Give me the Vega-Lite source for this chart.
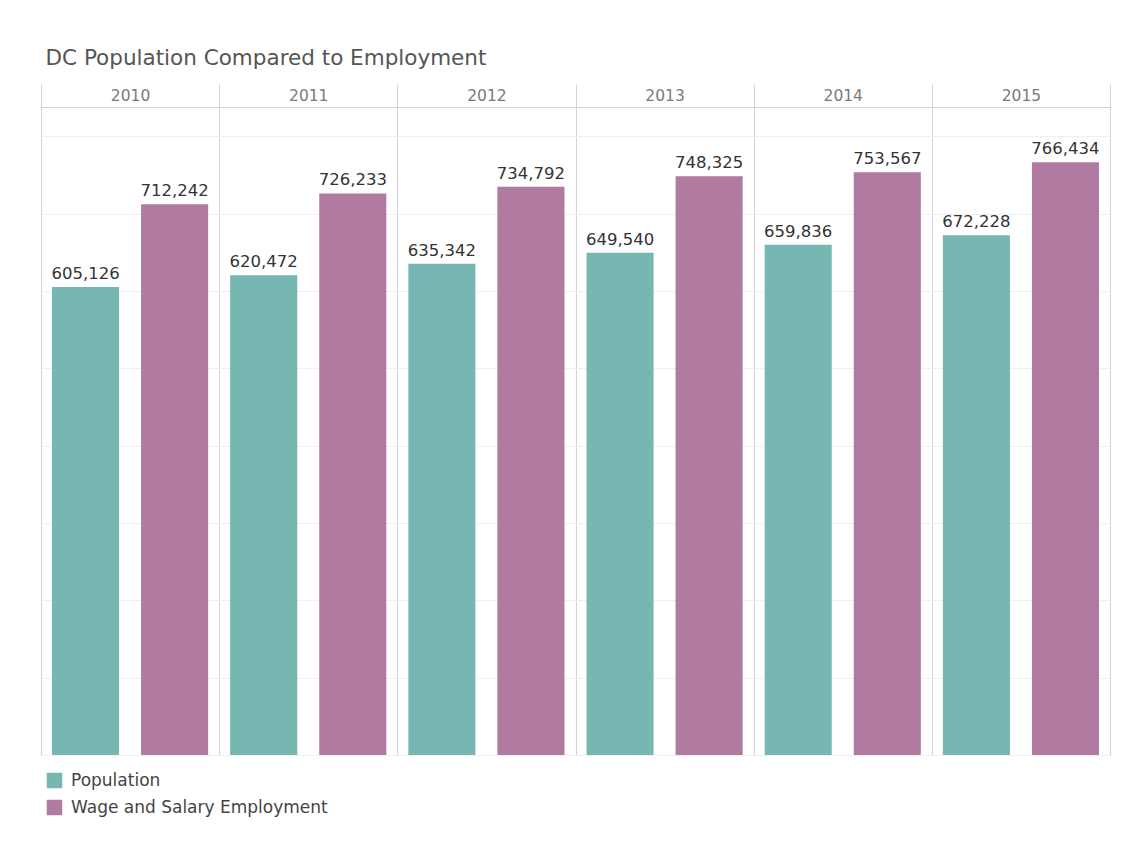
{
  "$schema": "https://vega.github.io/schema/vega-lite/v6.json",
  "autosize": {"type": "none"},
  "width": 1069,
  "height": 648,
  "padding": {"left": 41, "top": 107, "right": 26, "bottom": 93},
  "background": "white",
  "title": {
    "text": "DC Population Compared to Employment",
    "anchor": "start",
    "dx": 5,
    "offset": 14,
    "font": "DejaVu Sans",
    "fontSize": 21.5,
    "fontWeight": "normal",
    "color": "#555555"
  },
  "data": {
    "values": [
      {"year": "2010", "series": "Population", "value": 605126},
      {"year": "2010", "series": "Wage and Salary Employment", "value": 712242},
      {"year": "2011", "series": "Population", "value": 620472},
      {"year": "2011", "series": "Wage and Salary Employment", "value": 726233},
      {"year": "2012", "series": "Population", "value": 635342},
      {"year": "2012", "series": "Wage and Salary Employment", "value": 734792},
      {"year": "2013", "series": "Population", "value": 649540},
      {"year": "2013", "series": "Wage and Salary Employment", "value": 748325},
      {"year": "2014", "series": "Population", "value": 659836},
      {"year": "2014", "series": "Wage and Salary Employment", "value": 753567},
      {"year": "2015", "series": "Population", "value": 672228},
      {"year": "2015", "series": "Wage and Salary Employment", "value": 766434}
    ]
  },
  "encoding": {
    "x": {
      "field": "year",
      "type": "nominal",
      "scale": {"paddingInner": 0, "paddingOuter": 0},
      "axis": {
        "orient": "top",
        "title": null,
        "tickBand": "extent",
        "tickSize": 23,
        "tickColor": "#d4d4d4",
        "grid": true,
        "gridColor": "#d4d4d4",
        "domain": false,
        "labelAngle": 0,
        "labelPadding": -19,
        "labelFont": "DejaVu Sans",
        "labelFontSize": 15.5,
        "labelColor": "#7a7a7a"
      }
    },
    "xOffset": {
      "field": "series",
      "type": "nominal",
      "scale": {"paddingInner": 0.247, "paddingOuter": 0.1236}
    },
    "y": {
      "field": "value",
      "type": "quantitative",
      "scale": {"domain": [0, 838000], "nice": false, "zero": true},
      "axis": {
        "title": null,
        "labels": false,
        "ticks": false,
        "domain": false,
        "grid": true,
        "gridColor": "#f0f0f0",
        "values": [0, 100000, 200000, 300000, 400000, 500000, 600000, 700000, 800000]
      }
    }
  },
  "layer": [
    {
      "mark": {"type": "bar"},
      "encoding": {
        "color": {
          "field": "series",
          "type": "nominal",
          "scale": {
            "domain": ["Population", "Wage and Salary Employment"],
            "range": ["#76b7b2", "#b07aa1"]
          },
          "legend": {
            "title": null,
            "orient": "none",
            "legendX": 5,
            "legendY": 665,
            "direction": "vertical",
            "symbolType": "square",
            "symbolSize": 240,
            "symbolStrokeWidth": 0,
            "labelFont": "DejaVu Sans",
            "labelFontSize": 17,
            "labelColor": "#444444",
            "labelOffset": 8,
            "labelLimit": 0,
            "rowPadding": 9
          }
        }
      }
    },
    {
      "mark": {
        "type": "text",
        "dy": -8,
        "baseline": "alphabetic",
        "font": "DejaVu Sans",
        "fontSize": 16.5,
        "color": "#333333"
      },
      "encoding": {
        "text": {"field": "value", "type": "quantitative", "format": ","}
      }
    }
  ],
  "config": {
    "view": {"stroke": "#d4d4d4"},
    "legend": {"symbolOpacity": 1}
  }
}
